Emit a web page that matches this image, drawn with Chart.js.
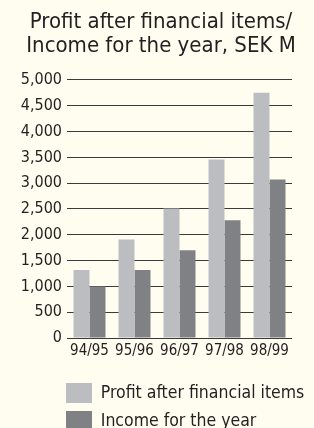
<!DOCTYPE html>
<html>
<head>
<meta charset="utf-8">
<script src="https://cdn.jsdelivr.net/npm/chart.js@4"></script>
<style>
  html, body { margin: 0; padding: 0; background: #fffdf0; }
  #wrap { width: 314px; height: 428px; position: relative; }
</style>
</head>
<body>
<div id="wrap"><canvas id="c" width="314" height="428"></canvas></div>
<script>
const categories = ["94/95", "95/96", "96/97", "97/98", "98/99"];
const profitAfterFinancialItems = [1320, 1910, 2510, 3460, 4750];
const incomeForTheYear = [1000, 1320, 1700, 2280, 3070];
const seriesNames = ["Profit after financial items", "Income for the year"];
const titleLines = ["Profit after financial items/", "Income for the year, SEK M"];
const yTickMin = 0, yTickMax = 5000, yTickStep = 500;

const FONT = "'DejaVu Sans Condensed', 'DejaVu Sans', sans-serif";
const TEXT = "#231f20";

const blockShift = {
  id: 'blockShift',
  afterLayout(chart) {
    const lg = chart.legend;
    const p = lg.options.labels.padding;
    lg.left = 66 - p;
    lg.top = 383 - p;
    lg.right = 314;
    lg.width = lg.right - lg.left;
    const t = chart.titleBlock;
    t.left = 8;
    t.right = 314;
    t.width = t.right - t.left;
  }
};

new Chart(document.getElementById('c'), {
  type: 'bar',
  data: {
    labels: categories,
    datasets: [
      { label: seriesNames[0], data: profitAfterFinancialItems, backgroundColor: '#bcbdc1', borderWidth: 0,
        categoryPercentage: 0.711, barPercentage: 1.0 },
      { label: seriesNames[1], data: incomeForTheYear, backgroundColor: '#808184', borderWidth: 0,
        categoryPercentage: 0.711, barPercentage: 1.0 }
    ]
  },
  options: {
    responsive: false,
    animation: false,
    events: [],
    layout: { padding: { left: 0, right: 22, top: 0, bottom: 0 } },
    plugins: {
      title: {
        display: true,
        text: titleLines,
        color: TEXT,
        font: { family: FONT, size: 22, weight: 'normal', lineHeight: 1.09 },
        padding: { top: 10.4, bottom: 21.6 }
      },
      legend: {
        display: true,
        position: 'bottom',
        align: 'start',
        labels: {
          boxWidth: 26,
          boxHeight: 20,
          padding: 8,
          color: TEXT,
          font: { family: FONT, size: 17.5 }
        }
      },
      tooltip: { enabled: false }
    },
    scales: {
      x: {
        grid: { display: false, drawTicks: false },
        border: { display: false },
        ticks: { color: TEXT, font: { family: FONT, size: 15 }, padding: 4, maxRotation: 0 },
        afterFit: s => { s.height = 24; }
      },
      y: {
        min: yTickMin,
        max: yTickMax,
        grid: { color: '#3a3a3a', lineWidth: 1, drawTicks: false },
        border: { display: false },
        ticks: {
          stepSize: yTickStep,
          color: TEXT,
          padding: 5,
          font: { family: FONT, size: 16 },
          callback: v => v.toLocaleString('en-US')
        },
        afterFit: s => { s.width = 67; }
      }
    }
  },
  plugins: [blockShift]
});
</script>
</body>
</html>
